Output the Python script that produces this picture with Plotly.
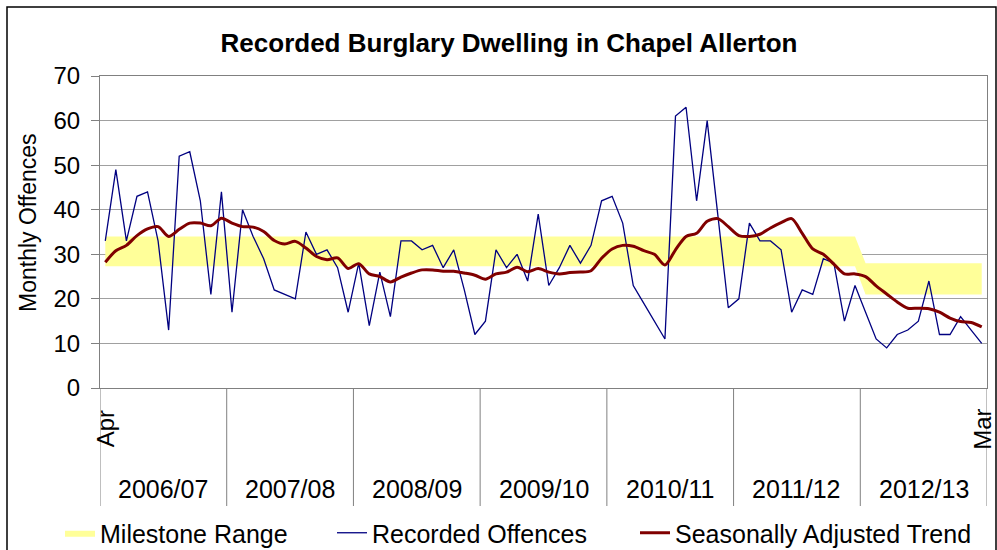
import plotly.graph_objects as go

# ---------------- data ----------------
years = ["2006/07", "2007/08", "2008/09", "2009/10", "2010/11", "2011/12", "2012/13"]
months = ["Apr", "May", "Jun", "Jul", "Aug", "Sep", "Oct", "Nov", "Dec", "Jan", "Feb", "Mar"]

recorded = [
    33, 49, 33, 43, 44, 33, 13, 52, 53, 42, 21, 44,   # 2006/07
    17, 40, 34, 29, 22, 21, 20, 35, 30, 31, 27, 17,   # 2007/08
    28, 14, 26, 16, 33, 33, 31, 32, 27, 31, 22, 12,   # 2008/09
    15, 31, 27, 30, 24, 39, 23, 27, 32, 28, 32, 42,   # 2009/10
    43, 37, 23, 19, 15, 11, 61, 63, 42, 60, 39, 18,   # 2010/11
    20, 37, 33, 33, 31, 17, 22, 21, 29, 28, 15, 23,   # 2011/12
    17, 11, 9, 12, 13, 15, 24, 12, 12, 16, 13, 10,    # 2012/13
]

trend = [
    28.2, 30.8, 32.0, 34.2, 35.7, 36.2, 34.0, 35.6, 37.0, 37.0, 36.4, 38.1,
    37.0, 36.2, 36.1, 35.1, 33.1, 32.3, 32.9, 31.4, 29.5, 28.8, 29.2, 26.8,
    27.9, 25.6, 25.0, 23.8, 24.9, 25.8, 26.5, 26.5, 26.2, 26.2, 25.8, 25.3,
    24.4, 25.6, 26.0, 27.1, 26.1, 26.8, 26.0, 25.6, 25.9, 26.0, 26.3, 29.1,
    31.2, 32.0, 31.8, 30.8, 30.0, 27.6, 31.0, 34.0, 34.7, 37.4, 38.0, 36.2,
    34.2, 34.0, 34.5, 35.9, 37.1, 38.0, 34.7, 31.2, 30.0, 27.8, 25.6, 25.6,
    25.0, 22.9, 21.1, 19.3, 17.9, 17.9, 17.8, 17.0, 15.7, 14.9, 14.7, 13.7,
]

milestone_low_by_year = [27.3, 27.3, 27.3, 27.3, 27.3, 27.3, 21.0]
milestone_high_by_year = [34.0, 34.0, 34.0, 34.0, 34.0, 34.0, 28.0]

# ---------------- derived ----------------
n_months = len(months)
x = list(range(len(recorded)))
month_labels = [f"{months[i % n_months]} {years[i // n_months]}" for i in x]
mil_low = [milestone_low_by_year[i // n_months] for i in x]
mil_high = [milestone_high_by_year[i // n_months] for i in x]

FONT = "Liberation Sans, Arial, sans-serif"

fig = go.Figure()
fig.add_trace(go.Scatter(
    x=x, y=mil_low, mode="lines", line=dict(width=0, color="#FFFF99"),
    showlegend=False, hoverinfo="skip", text=month_labels))
fig.add_trace(go.Scatter(
    x=x, y=mil_high, mode="lines", line=dict(width=0, color="#FFFF99"),
    fill="tonexty", fillcolor="#FFFF99", name="Milestone Range",
    legend="legend", text=month_labels))
fig.add_trace(go.Scatter(
    x=x, y=recorded, mode="lines", line=dict(color="#000080", width=1.3),
    name="Recorded Offences", legend="legend2", text=month_labels))
fig.add_trace(go.Scatter(
    x=x, y=trend, mode="lines",
    line=dict(color="#800000", width=3, shape="spline", smoothing=0.8),
    name="Seasonally Adjusted Trend", legend="legend3", text=month_labels))

# geometry helpers (paper coords)
L, R, T, B = 100, 10, 76, 162
W, H = 997, 550
pw, ph = W - L - R, H - T - B


def py(pix):
    return (H - B - pix) / ph


def px(pix):
    return (pix - L) / pw


shapes = []
for k in range(len(years) + 1):
    xs = k * n_months - 0.5
    shapes.append(dict(type="line", xref="x", yref="paper", x0=xs, x1=xs,
                       y0=0, y1=py(506), line=dict(color="#808080", width=1)))
# outer chart border
shapes.append(dict(type="rect", xref="paper", yref="paper",
                   x0=px(7), x1=px(996), y0=py(560), y1=py(7),
                   line=dict(color="black", width=1.5), fillcolor="rgba(0,0,0,0)"))

annotations = []
for k, yr in enumerate(years):
    annotations.append(dict(text=yr, x=k * n_months + (n_months - 1) / 2, xref="x",
                            y=py(489), yref="paper", showarrow=False,
                            xanchor="center", yanchor="middle",
                            font=dict(family=FONT, size=25, color="black")))
annotations.append(dict(text=months[0], x=x[0], xref="x", y=py(429), yref="paper",
                        showarrow=False, textangle=-90, xanchor="center", yanchor="middle",
                        font=dict(family=FONT, size=24, color="black")))
annotations.append(dict(text=months[-1], x=x[-1], xref="x", y=py(429), yref="paper",
                        showarrow=False, textangle=-90, xanchor="center", yanchor="middle",
                        font=dict(family=FONT, size=24, color="black")))
annotations.append(dict(text="Monthly Offences", x=px(28), xref="paper", y=py(223),
                        yref="paper", showarrow=False, textangle=-90,
                        xanchor="center", yanchor="middle",
                        font=dict(family=FONT, size=23, color="black")))

leg_common = dict(orientation="h", xanchor="left", yanchor="middle", y=py(533),
                  font=dict(family=FONT, size=25, color="black"),
                  bgcolor="rgba(0,0,0,0)", borderwidth=0)

fig.update_layout(
    width=W, height=H,
    margin=dict(l=L, r=R, t=T, b=B, autoexpand=False),
    paper_bgcolor="white", plot_bgcolor="white",
    font=dict(family=FONT, color="black"),
    title=dict(text="<b>Recorded Burglary Dwelling in Chapel Allerton</b>",
               x=509 / W, xref="container", xanchor="center",
               y=1 - 43 / H, yref="container", yanchor="middle",
               font=dict(family=FONT, size=26, color="black")),
    xaxis=dict(range=[-0.5, len(x) - 0.5], showticklabels=False, showgrid=False,
               zeroline=False, showline=True, linecolor="#808080", linewidth=1,
               mirror=True, ticks=""),
    yaxis=dict(range=[0, 70], dtick=10, showgrid=True, gridcolor="#A0A0A0",
               gridwidth=1, zeroline=False, showline=True, linecolor="#808080",
               linewidth=1, mirror=True, ticks="outside", ticklen=8,
               tickcolor="#808080", ticklabelstandoff=6,
               tickfont=dict(family=FONT, size=24, color="black")),
    shapes=shapes,
    annotations=annotations,
    legend=dict(x=px(60), **leg_common),
    legend2=dict(x=px(332), **leg_common),
    legend3=dict(x=px(635), **leg_common),
)

fig.write_html("out.html", config={"displayModeBar": False},
               post_script="document.body.style.margin='0';")
